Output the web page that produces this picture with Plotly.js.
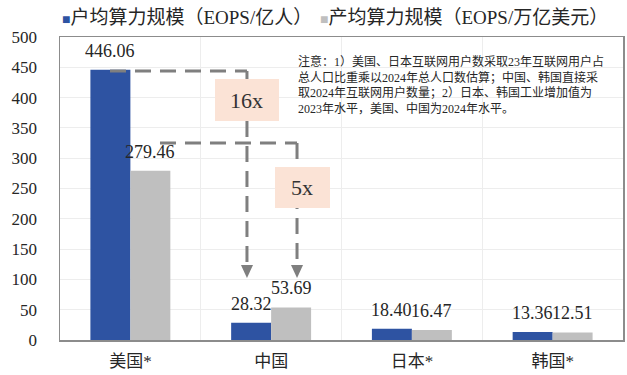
<!DOCTYPE html>
<html>
<head>
<meta charset="utf-8">
<script src="https://cdn.plot.ly/plotly-3.0.1.min.js"></script>
<style>html,body{margin:0;padding:0;background:#fff;}#chart{width:627px;height:375px;}</style>
</head>
<body>
<div id="chart"></div>
<script>
const categories = ['美国*', '中国', '日本*', '韩国*'];
const perCapita = [446.06, 28.32, 18.40, 13.36];
const perOutput = [279.46, 53.69, 16.47, 12.51];
const seriesNames = ['户均算力规模（EOPS/亿人）', '产均算力规模（EOPS/万亿美元）'];
const yTicks = [0, 50, 100, 150, 200, 250, 300, 350, 400, 450, 500];
const noteLines = [
  '注意：1）美国、日本互联网用户数采取23年互联网用户占',
  '总人口比重乘以2024年总人口数估算；中国、韩国直接采',
  '取2024年互联网用户数量；2）日本、韩国工业增加值为',
  '2023年水平，美国、中国为2024年水平。'
];
const multipleLabels = ['16x', '5x'];

const FONT = 'Liberation Serif, "Noto Sans CJK SC", serif';
const BLUE = '#2E53A2';
const GRAY = '#BFBFBF';

const traces = [
  {type: 'bar', name: seriesNames[0], x: categories, y: perCapita, marker: {color: BLUE}, hoverinfo: 'skip'},
  {type: 'bar', name: seriesNames[1], x: categories, y: perOutput, marker: {color: GRAY}, hoverinfo: 'skip'}
];

const annotations = [];
// value labels
[perCapita, perOutput].forEach((arr, si) => {
  arr.forEach((v, i) => {
    annotations.push({
      x: categories[i], y: v, xref: 'x', yref: 'y',
      text: v.toFixed(2), showarrow: false,
      xshift: si === 0 ? -20 : 20, yshift: 19, xanchor: 'center', yanchor: 'middle',
      font: {family: FONT, size: 18, color: '#262626'}
    });
  });
});
// legend (as text)
annotations.push({
  xref: 'paper', yref: 'paper', x: 0.0, y: 1.066, xanchor: 'left', yanchor: 'middle', showarrow: false,
  text: '<span style="color:' + BLUE + ';font-size:14px">■</span>' + seriesNames[0],
  font: {family: FONT, size: 19, color: '#262626'}
});
annotations.push({
  xref: 'paper', yref: 'paper', x: 0.458, y: 1.066, xanchor: 'left', yanchor: 'middle', showarrow: false,
  text: '<span style="color:' + GRAY + ';font-size:14px">■</span>' + seriesNames[1],
  font: {family: FONT, size: 19, color: '#262626'}
});
// note
annotations.push({
  xref: 'paper', yref: 'paper', x: 0.419, y: 0.95, xanchor: 'left', yanchor: 'top', showarrow: false,
  align: 'left', text: noteLines.join('<br>'),
  font: {family: FONT, size: 12, color: '#262626'}
});
// multiple labels
annotations.push({xref: 'paper', yref: 'paper', x: 0.3321, y: 0.792, xanchor: 'center', yanchor: 'middle', showarrow: false,
  text: multipleLabels[0], font: {family: FONT, size: 22, color: '#333'}});
annotations.push({xref: 'paper', yref: 'paper', x: 0.4298, y: 0.5033, xanchor: 'center', yanchor: 'middle', showarrow: false,
  text: multipleLabels[1], font: {family: FONT, size: 22, color: '#333'}});

const dashLine = {color: '#7F7F7F', width: 3, dash: '16px,9px'};
const shapes = [
  {type: 'line', xref: 'paper', yref: 'paper', x0: 0.0888, x1: 0.3321, y0: 0.8878, y1: 0.8878, line: dashLine},
  {type: 'line', xref: 'paper', yref: 'paper', x0: 0.3321, x1: 0.3321, y0: 0.8878, y1: 0.25, line: dashLine},
  {type: 'path', xref: 'paper', yref: 'paper', path: 'M0.3214,0.2475 L0.3428,0.2475 L0.3321,0.2046 Z', fillcolor: '#7F7F7F', line: {width: 0}},
  {type: 'line', xref: 'paper', yref: 'paper', x0: 0.1776, x1: 0.4210, y0: 0.6502, y1: 0.6502, line: dashLine},
  {type: 'line', xref: 'paper', yref: 'paper', x0: 0.4210, x1: 0.4210, y0: 0.6502, y1: 0.25, line: dashLine},
  {type: 'path', xref: 'paper', yref: 'paper', path: 'M0.4103,0.2475 L0.4317,0.2475 L0.4210,0.2046 Z', fillcolor: '#7F7F7F', line: {width: 0}},
  {type: 'rect', xref: 'paper', yref: 'paper', x0: 0.2753, x1: 0.3890, y0: 0.7228, y1: 0.8614, fillcolor: '#FBE3D6', line: {width: 0}},
  {type: 'rect', xref: 'paper', yref: 'paper', x0: 0.3819, x1: 0.4796, y0: 0.4356, y1: 0.5710, fillcolor: '#FBE3D6', line: {width: 0}}
];

const layout = {
  width: 627, height: 375,
  margin: {l: 60, r: 4, t: 37, b: 35},
  paper_bgcolor: '#fff', plot_bgcolor: '#fff',
  showlegend: false,
  barmode: 'group', bargap: 0.432, bargroupgap: 0,
  font: {family: FONT, color: '#262626'},
  xaxis: {
    type: 'category', range: [-0.5, 3.5], tickson: 'boundaries', showgrid: true, gridcolor: '#EDEDED',
    ticks: '', showline: true, linecolor: '#8C8C8C', linewidth: 1.5, mirror: true,
    ticklabelstandoff: 5, tickfont: {family: FONT, size: 17, color: '#262626'}, fixedrange: true
  },
  yaxis: {
    range: [0, 500], tickvals: yTicks, showgrid: true, gridcolor: '#EDEDED', zeroline: false,
    ticks: '', showline: true, linecolor: '#8C8C8C', linewidth: 1.5, mirror: true,
    ticklabelstandoff: 18, tickfont: {family: FONT, size: 17, color: '#262626'}, fixedrange: true
  },
  annotations: annotations,
  shapes: shapes
};

Plotly.newPlot('chart', traces, layout, {displayModeBar: false, staticPlot: true});
</script>
</body>
</html>
